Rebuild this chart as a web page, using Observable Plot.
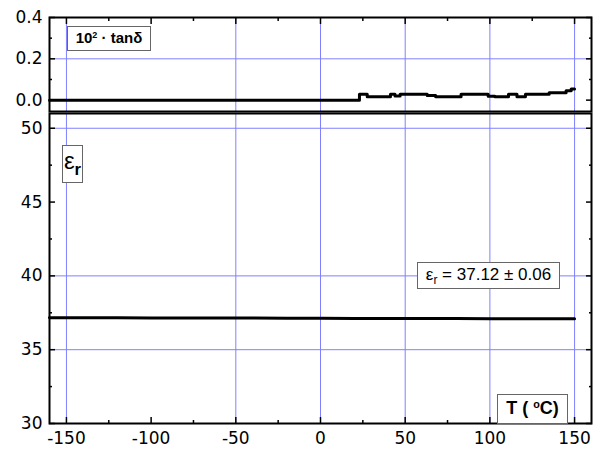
<!DOCTYPE html>
<html><head><meta charset="utf-8">
<script src="https://cdn.jsdelivr.net/npm/d3@7"></script>
<script src="https://cdn.jsdelivr.net/npm/@observablehq/plot@0.6"></script>
<style>
body{margin:0;background:#fff;}
#c{position:relative;width:603px;height:451px;font-family:"Liberation Sans",Arial,sans-serif;color:#000;overflow:hidden;}
#c svg{position:absolute;left:0;overflow:visible;}
.box{position:absolute;box-sizing:border-box;border:1.5px solid #666;background:#fff;text-align:center;white-space:nowrap;}
.box span.in{display:inline-block;}
.box sup{font-size:60%;position:relative;top:-0.6em;vertical-align:baseline;line-height:0;}
.box sub{font-size:70%;position:relative;top:0.35em;vertical-align:baseline;line-height:0;}
</style></head><body><div id="c"></div>
<script>
// x axis
const xTicksMajor = [-150, -100, -50, 0, 50, 100, 150];
const xTicksMinor = [-125, -75, -25, 25, 75, 125];
const xGrid = [-150, -50, 0, 50, 100, 150];
// top panel: 10^2 tan(delta)
const tanTicks = [0.0, 0.2, 0.4];
const tanMinor = [0.1, 0.3];
const tanGrid = [0.2];
const tanT = [-160, 23, 27.6, 41.3, 44, 47, 49, 63, 68, 83, 99, 103, 111, 116, 121, 135, 145, 148, 150];
const tanV = [0.000, 0.028, 0.016, 0.028, 0.020, 0.028, 0.028, 0.022, 0.016, 0.028, 0.019, 0.016, 0.028, 0.016, 0.028, 0.036, 0.045, 0.054, 0.054];
// bottom panel: eps_r
const epsTicks = [30, 35, 40, 45, 50];
const epsMinor = [32.5, 37.5, 42.5, 47.5];
const epsGrid = [35, 40, 50];
const epsT = [-160, -140, -120, -100, -80, -60, -40, -20, 0, 20, 40, 60, 80, 100, 120, 140, 150];
const epsV = [37.17, 37.16, 37.16, 37.15, 37.15, 37.14, 37.14, 37.13, 37.13, 37.12, 37.12, 37.11, 37.11, 37.10, 37.10, 37.09, 37.09];

const tanData = tanT.map((t, i) => ({T: t, v: tanV[i]}));
const epsData = epsT.map((t, i) => ({T: t, v: epsV[i]}));

const gridColor = "#8080ff";
const font = {fontFamily: '"DejaVu Sans", sans-serif', fontSize: "17px", color: "#000", background: "transparent"};

const topPlot = Plot.plot({
  width: 603, height: 112,
  marginTop: 17, marginBottom: 1, marginLeft: 49, marginRight: 12,
  style: font,
  x: {domain: [-160, 160], axis: null},
  y: {domain: [-0.055, 0.4], axis: null},
  marks: [
    Plot.gridX(xGrid, {stroke: gridColor, strokeOpacity: 1}),
    Plot.gridY(tanGrid, {stroke: gridColor, strokeOpacity: 1}),
    Plot.line(tanData, {x: "T", y: "v", curve: "step-after", strokeWidth: 3, stroke: "#000"}),
    Plot.axisY(tanTicks, {anchor: "left", tickSize: -6, tickPadding: 13, strokeWidth: 1.5, label: null, tickFormat: d => d.toFixed(1)}),
    Plot.axisY(tanMinor, {anchor: "left", tickSize: -3, strokeWidth: 1.5, text: null, label: null}),
    Plot.axisY(tanTicks, {anchor: "right", tickSize: -6, strokeWidth: 1.5, text: null, label: null}),
    Plot.axisY(tanMinor, {anchor: "right", tickSize: -3, strokeWidth: 1.5, text: null, label: null}),
    Plot.axisX(xTicksMajor, {anchor: "top", tickSize: -6, strokeWidth: 1.5, text: null, label: null}),
    Plot.axisX(xTicksMinor, {anchor: "top", tickSize: -3, strokeWidth: 1.5, text: null, label: null}),
    Plot.frame({stroke: "#000", strokeWidth: 2})
  ]
});
topPlot.style.top = "0px";

const botPlot = Plot.plot({
  width: 603, height: 339,
  marginTop: 1, marginBottom: 28, marginLeft: 49, marginRight: 12,
  style: font,
  x: {domain: [-160, 160], axis: null},
  y: {domain: [30, 51], axis: null},
  marks: [
    Plot.gridX(xGrid, {stroke: gridColor, strokeOpacity: 1}),
    Plot.gridY(epsGrid, {stroke: gridColor, strokeOpacity: 1}),
    Plot.line(epsData, {x: "T", y: "v", strokeWidth: 3, stroke: "#000"}),
    Plot.axisY(epsTicks, {anchor: "left", tickSize: -6, tickPadding: 13, strokeWidth: 1.5, label: null, tickFormat: d => String(d)}),
    Plot.axisY(epsMinor, {anchor: "left", tickSize: -3, strokeWidth: 1.5, text: null, label: null}),
    Plot.axisY(epsTicks, {anchor: "right", tickSize: -6, strokeWidth: 1.5, text: null, label: null}),
    Plot.axisY(epsMinor, {anchor: "right", tickSize: -3, strokeWidth: 1.5, text: null, label: null}),
    Plot.axisX(xTicksMajor, {anchor: "bottom", tickSize: -6, tickPadding: 14, strokeWidth: 1.5, label: null, tickFormat: d => String(d)}),
    Plot.axisX(xTicksMinor, {anchor: "bottom", tickSize: -3, strokeWidth: 1.5, text: null, label: null}),
    Plot.frame({stroke: "#000", strokeWidth: 2})
  ]
});
botPlot.style.top = "112px";

const c = document.getElementById("c");
c.appendChild(topPlot);
c.appendChild(botPlot);

function box(html, left, top, w, h, style) {
  const d = document.createElement("div");
  d.className = "box";
  d.style.left = left + "px"; d.style.top = top + "px";
  d.style.width = w + "px"; d.style.height = h + "px";
  d.style.lineHeight = (h - 3) + "px";
  Object.assign(d.style, style || {});
  d.innerHTML = "<span class='in'>" + html + "</span>";
  c.appendChild(d);
}
box("10<sup>2</sup> · tanδ", 67, 26, 84, 25, {fontWeight: "bold", fontSize: "15px"});
box("ε<sub style='font-weight:bold;font-size:70%'>r</sub>", 62, 145, 21, 38, {fontSize: "24px", lineHeight: "30px"});
box("ε<sub>r</sub> = 37.12 ± 0.06", 417, 262, 143, 27, {fontSize: "17px"});
box("T ( <sup>o</sup>C)", 497, 394, 71, 30, {fontWeight: "bold", fontSize: "18px"});
</script>
</body></html>
